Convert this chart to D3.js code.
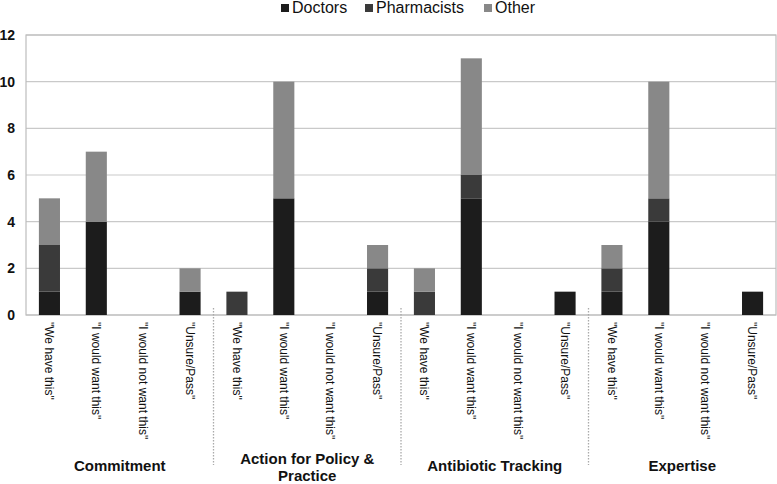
<!DOCTYPE html>
<html><head><meta charset="utf-8">
<script src="https://cdn.jsdelivr.net/npm/d3@7"></script>
<style>body{margin:0;background:#fff}svg{display:block;font-family:"Liberation Sans",Arial,sans-serif}</style>
</head><body><svg id="c" width="777" height="484"></svg>
<script>
const groups = ["Commitment", "Action for Policy & Practice", "Antibiotic Tracking", "Expertise"];
const responses = ["\"We have this\"", "\"I would want this\"", "\"I would not want this\"", "\"Unsure/Pass\""];
const seriesNames = ["Doctors", "Pharmacists", "Other"];
const doctors     = [1,4,0,1, 0,5,0,1, 0,5,0,1, 1,4,0,1];
const pharmacists = [2,0,0,0, 1,0,0,1, 1,1,0,0, 1,1,0,0];
const other       = [2,3,0,1, 0,5,0,1, 1,5,0,0, 1,5,0,0];
const yTicks = [0,2,4,6,8,10,12];
const colors = ["#1c1c1c", "#3a3a3a", "#888888"];

const svg = d3.select("#c");
const L = 26, R = 776, T = 35, B = 315;
const cats = [];
groups.forEach((g,gi)=>responses.forEach((r,ri)=>cats.push({key:gi+"-"+ri, g, r, gi})));
const rows = cats.map((c,i)=>({key:c.key, Doctors:doctors[i], Pharmacists:pharmacists[i], Other:other[i]}));
const x = d3.scaleBand().domain(cats.map(c=>c.key)).range([L,R]).paddingInner(0.55).paddingOuter(0.275);
const y = d3.scaleLinear().domain([0,12]).range([B,T]);

// gridlines
svg.append("g").selectAll("line").data(yTicks).join("line")
  .attr("x1",L).attr("x2",R).attr("y1",d=>y(d)).attr("y2",d=>y(d))
  .attr("stroke","#c9c9c9").attr("stroke-width",1.2);
svg.append("rect").attr("x",L).attr("y",T).attr("width",R-L).attr("height",B-T)
  .attr("fill","none").attr("stroke","#bdbdbd").attr("stroke-width",1.2);

// y axis labels
const yAxis = d3.axisLeft(y).tickValues(yTicks).tickSize(0).tickPadding(11);
const ya = svg.append("g").attr("transform",`translate(${L},0)`).call(yAxis);
ya.select(".domain").remove();
ya.selectAll("text").attr("font-size",14).attr("font-weight","bold").attr("fill","#111")
  .attr("font-family","'Liberation Sans',Arial,sans-serif");

// bars
const stack = d3.stack().keys(seriesNames)(rows);
svg.append("g").selectAll("g").data(stack).join("g").attr("fill",(d,i)=>colors[i])
  .selectAll("rect").data(d=>d.filter(p=>p[1]>p[0])).join("rect")
  .attr("x",d=>x(d.data.key)).attr("width",x.bandwidth())
  .attr("y",d=>y(d[1])).attr("height",d=>y(d[0])-y(d[1]));

// x labels
const xAxis = d3.axisBottom(x).tickSize(0).tickFormat((k,i)=>cats[i].r);
const xa = svg.append("g").attr("transform",`translate(0,${B})`).call(xAxis);
xa.select(".domain").remove();
xa.selectAll("text").attr("font-size",12).attr("fill","#111")
  .attr("font-family","'Liberation Sans',Arial,sans-serif")
  .attr("text-anchor","start").attr("transform","rotate(90)")
  .attr("x",7).attr("y",0).attr("dy","0.35em");

// separators
const step = x.step();
[1,2,3].forEach(i=>{
  const sx = L + i*4*step;
  svg.append("line").attr("x1",sx).attr("x2",sx).attr("y1",308).attr("y2",465)
    .attr("stroke","#aaa").attr("stroke-width",1.3).attr("stroke-dasharray","1.5,1.5");
});

// group labels
groups.forEach((g,gi)=>{
  const cx = L + (gi*4+2)*step;
  const t = svg.append("text").attr("x",cx).attr("text-anchor","middle")
    .attr("font-size",15).attr("font-weight","bold").attr("fill","#111");
  if (g === "Action for Policy & Practice") {
    t.append("tspan").attr("x",cx).attr("y",464).text("Action for Policy &");
    t.append("tspan").attr("x",cx).attr("y",481).text("Practice");
  } else {
    t.attr("y",471).text(g);
  }
});

// legend
const lx = [281, 365, 484];
const lg = svg.append("g");
seriesNames.forEach((s,i)=>{
  lg.append("rect").attr("x",lx[i]).attr("y",4).attr("width",8).attr("height",8).attr("fill",colors[i]);
  lg.append("text").attr("x",lx[i]+11).attr("y",13).attr("font-size",16).attr("fill","#111").text(s);
});
</script></body></html>
